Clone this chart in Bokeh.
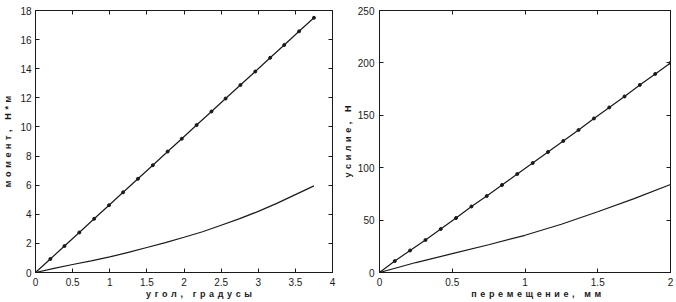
from bokeh.plotting import figure
from bokeh.layouts import row
from bokeh.models import LinearAxis, FixedTicker, CustomJSTickFormatter
from bokeh.embed import file_html
from bokeh.resources import INLINE

# Left chart: moment vs angle
angle_mark = [0, 0.2, 0.39, 0.59, 0.79, 0.99, 1.18, 1.38, 1.58, 1.78, 1.97,
              2.17, 2.37, 2.56, 2.76, 2.96, 3.16, 3.35, 3.55, 3.75]
moment_mark = [0, 0.93, 1.82, 2.75, 3.69, 4.62, 5.51, 6.44, 7.37, 8.31, 9.19,
               10.13, 11.06, 11.95, 12.88, 13.81, 14.75, 15.63, 16.57, 17.5]
angle_curve = [0, 0.25, 0.5, 0.75, 1.0, 1.25, 1.5, 1.75, 2.0, 2.25, 2.5, 2.75,
               3.0, 3.25, 3.5, 3.75]
moment_curve = [0, 0.28, 0.55, 0.8, 1.07, 1.38, 1.72, 2.05, 2.42, 2.8, 3.25,
                3.7, 4.2, 4.75, 5.35, 5.95]
angle_ticks = [0, 0.5, 1, 1.5, 2, 2.5, 3, 3.5, 4]
moment_ticks = [0, 2, 4, 6, 8, 10, 12, 14, 16, 18]

# Right chart: force vs displacement
disp_mark = [0, 0.105, 0.21, 0.316, 0.421, 0.526, 0.632, 0.737, 0.842, 0.947,
             1.053, 1.158, 1.263, 1.368, 1.474, 1.579, 1.684, 1.789, 1.895, 2.0]
force_mark = [0, 10.9, 21, 31, 41.5, 52, 63, 73, 83.5, 94, 104.5, 115, 125.5,
              136, 147, 157.5, 168, 179, 189.5, 200]
disp_curve = [0, 0.25, 0.5, 0.75, 1.0, 1.25, 1.5, 1.75, 2.0]
force_curve = [0, 9.5, 18, 26.5, 35.5, 46, 58, 70.5, 84]
disp_ticks = [0, 0.5, 1, 1.5, 2]
force_ticks = [0, 50, 100, 150, 200, 250]

FONT = "Liberation Sans"
INK = "#1a1a1a"
SP = "\u2009\u2009"
NB = "\u00a0"
fmt_code = "return String(Math.round(tick * 100) / 100);"


def spaced(s):
    return SP.join(list(s))


def make_fig(xr, yr, xt, yt, xlabel, ylabel, width, bl, br,
             ylab_standoff, ytick_standoff, xpad):
    p = figure(width=width, height=302, x_range=xr, y_range=yr,
               output_backend="svg", toolbar_location=None,
               min_border_left=bl, min_border_right=br,
               min_border_top=10, min_border_bottom=30,
               x_axis_location=None, y_axis_location=None)
    p.grid.visible = False
    p.outline_line_color = INK
    p.outline_line_width = 1
    p.background_fill_color = "white"
    p.border_fill_color = "white"

    bx = LinearAxis(ticker=FixedTicker(ticks=xt),
                    formatter=CustomJSTickFormatter(code=fmt_code),
                    axis_label=NB * xpad + spaced(xlabel))
    ly = LinearAxis(ticker=FixedTicker(ticks=yt),
                    formatter=CustomJSTickFormatter(code=fmt_code),
                    axis_label=spaced(ylabel))
    tx = LinearAxis(ticker=FixedTicker(ticks=xt))
    ry = LinearAxis(ticker=FixedTicker(ticks=yt))
    for ax in (bx, ly, tx, ry):
        ax.major_tick_in = 4
        ax.major_tick_out = 0
        ax.minor_tick_line_color = None
        ax.axis_line_color = INK
        ax.major_tick_line_color = INK
        ax.major_label_text_font = FONT
        ax.major_label_text_font_size = "10px"
        ax.major_label_text_color = INK
        ax.axis_label_text_font = FONT
        ax.axis_label_text_font_size = "9px"
        ax.axis_label_text_font_style = "bold"
        ax.axis_label_text_color = INK
    for ax in (tx, ry):
        ax.major_label_text_font_size = "0px"
        ax.major_label_standoff = 0
        ax.major_label_text_alpha = 0
        ax.formatter = CustomJSTickFormatter(code="return '';")
    bx.major_label_standoff = 5
    bx.axis_label_standoff = 0
    ly.major_label_standoff = ytick_standoff
    ly.axis_label_standoff = ylab_standoff
    p.add_layout(bx, "below")
    p.add_layout(ly, "left")
    p.add_layout(tx, "above")
    p.add_layout(ry, "right")
    return p


p1 = make_fig((0, 4), (0, 18), angle_ticks, moment_ticks,
              "угол, градусы", "момент, Н*м", 338, 35, 6, 4, 4, 12)
p1.line(angle_mark, moment_mark, line_color=INK, line_width=1.2)
p1.scatter(angle_mark, moment_mark, size=3, color=INK)
p1.line(angle_curve, moment_curve, line_color=INK, line_width=1.2)

p2 = make_fig((0, 2), (0, 250), disp_ticks, force_ticks,
              "перемещение, мм", "усилие, Н", 338, 41, 6, 2, 5, 9)
p2.line(disp_mark, force_mark, line_color=INK, line_width=1.2)
p2.scatter(disp_mark, force_mark, size=3, color=INK)
p2.line(disp_curve, force_curve, line_color=INK, line_width=1.2)

layout = row(p1, p2)
open("out.html", "w").write(file_html(layout, INLINE))
